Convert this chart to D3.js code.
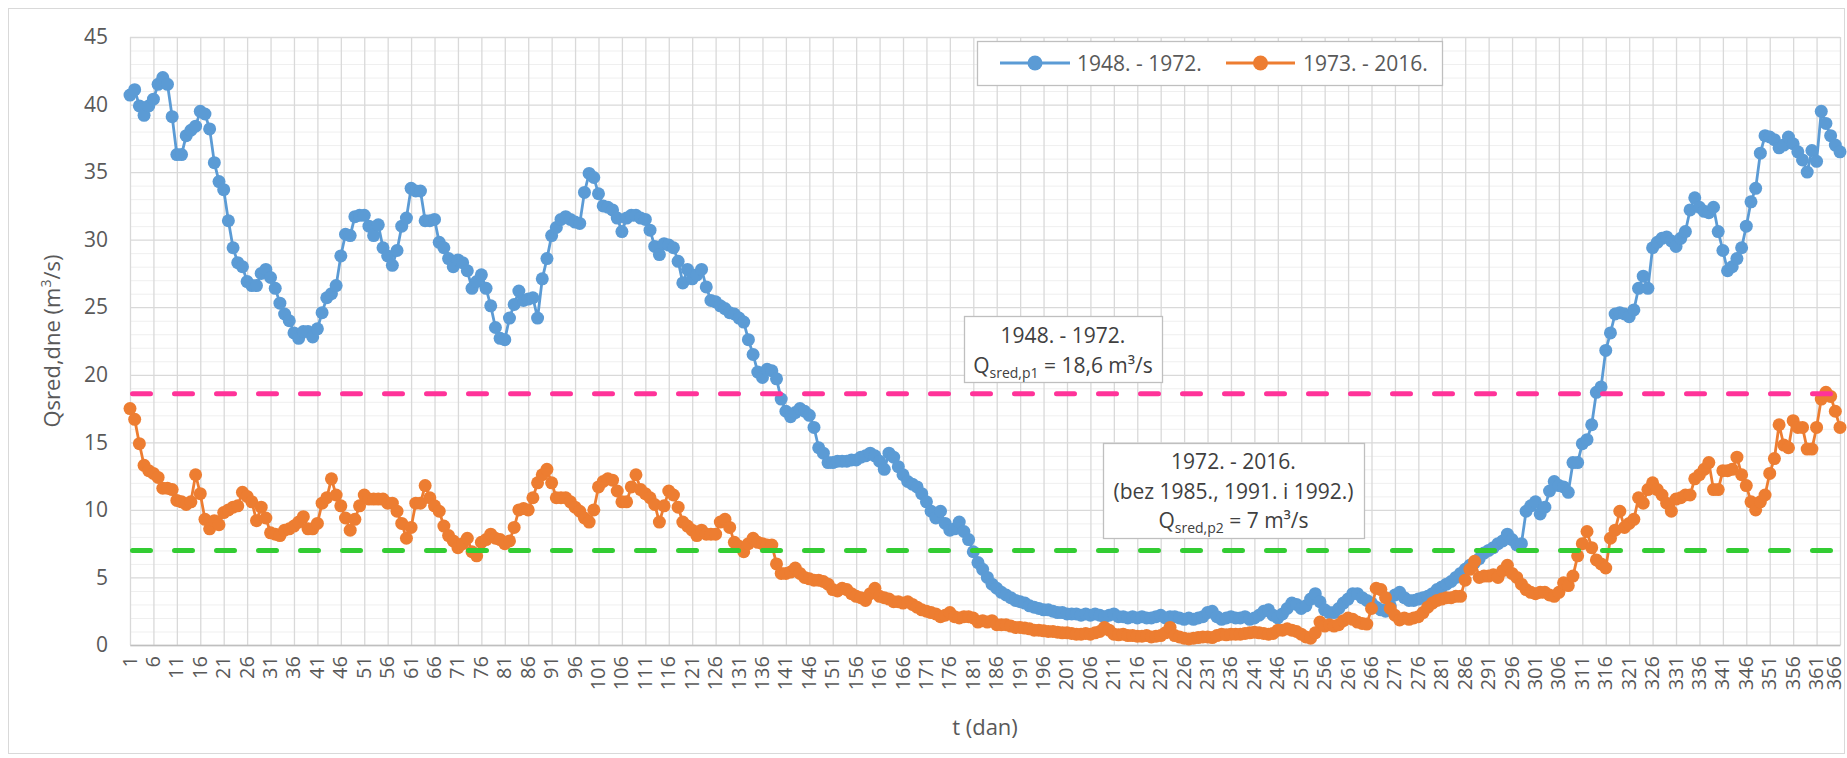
<!DOCTYPE html>
<html>
<head>
<meta charset="utf-8">
<script src="https://cdn.jsdelivr.net/npm/d3@7"></script>
<style>
  body { margin: 0; background: #fff; }
  svg { display: block; }
  text { font-family: "Open Sans", sans-serif; fill: #595959; }
</style>
</head>
<body>
<svg id="chart" width="1847" height="758"></svg>
<script>
// Mean daily discharge per day of year, two periods
const seriesNames = ["1948. - 1972.", "1973. - 2016."];

const q1948 = [
  40.7, 41.1, 39.9, 39.2, 39.9, 40.4, 41.5, 42.0, 41.5, 39.1,
  36.3, 36.3, 37.7, 38.1, 38.4, 39.5, 39.3, 38.2, 35.7, 34.3,
  33.7, 31.4, 29.4, 28.3, 28.0, 26.9, 26.6, 26.6, 27.5, 27.8,
  27.2, 26.4, 25.3, 24.5, 24.0, 23.1, 22.7, 23.2, 23.2, 22.8,
  23.4, 24.6, 25.7, 26.0, 26.6, 28.8, 30.4, 30.3, 31.7, 31.8,
  31.8, 31.0, 30.3, 31.1, 29.4, 28.8, 28.1, 29.2, 31.0, 31.6,
  33.8, 33.6, 33.6, 31.4, 31.4, 31.5, 29.8, 29.4, 28.6, 28.0,
  28.5, 28.3, 27.7, 26.4, 26.9, 27.4, 26.4, 25.1, 23.5, 22.7,
  22.6, 24.2, 25.2, 26.2, 25.5, 25.6, 25.7, 24.2, 27.1, 28.6,
  30.3, 30.9, 31.5, 31.7, 31.5, 31.3, 31.2, 33.5, 34.9, 34.6,
  33.4, 32.5, 32.4, 32.2, 31.6, 30.6, 31.6, 31.8, 31.8, 31.6,
  31.5, 30.7, 29.5, 28.9, 29.7, 29.6, 29.4, 28.4, 26.8, 27.8,
  27.1, 27.4, 27.8, 26.5, 25.5, 25.4, 25.1, 24.9, 24.6, 24.5,
  24.2, 23.9, 22.6, 21.5, 20.2, 19.8, 20.4, 20.3, 19.7, 18.2,
  17.3, 16.9, 17.2, 17.5, 17.3, 17.0, 16.1, 14.6, 14.2, 13.5,
  13.5, 13.6, 13.6, 13.6, 13.7, 13.7, 13.9, 14.0, 14.2, 14.0,
  13.6, 13.0, 14.2, 13.9, 13.2, 12.6, 12.1, 11.9, 11.7, 11.2,
  10.6, 9.9, 9.4, 9.9, 9.0, 8.5, 8.6, 9.1, 8.4, 7.8,
  6.9, 6.1, 5.6, 5.0, 4.5, 4.2, 3.9, 3.7, 3.5, 3.3,
  3.2, 3.1, 2.9, 2.8, 2.7, 2.6, 2.6, 2.5, 2.4, 2.4,
  2.3, 2.3, 2.3, 2.2, 2.3, 2.2, 2.3, 2.2, 2.1, 2.2,
  2.3, 2.1, 2.1, 2.0, 2.1, 2.0, 2.1, 2.0, 2.0, 2.1,
  2.2, 2.0, 2.1, 2.1, 2.0, 1.9, 2.0, 1.9, 2.0, 2.1,
  2.4, 2.5, 2.1, 1.9, 2.0, 2.1, 2.0, 2.0, 2.1, 1.9,
  2.0, 2.2, 2.5, 2.6, 2.2, 2.0, 2.3, 2.7, 3.1, 3.0,
  2.7, 2.9, 3.4, 3.8, 3.2, 2.6, 2.4, 2.4, 2.7, 3.1,
  3.4, 3.8, 3.8, 3.5, 3.3, 3.1, 2.8, 2.6, 2.5, 2.9,
  3.7, 3.9, 3.5, 3.3, 3.3, 3.4, 3.5, 3.6, 3.8, 4.1,
  4.3, 4.5, 4.7, 5.0, 5.3, 5.6, 5.9, 6.1, 6.4, 6.8,
  7.0, 7.2, 7.5, 7.7, 8.2, 7.8, 7.4, 7.5, 9.9, 10.3,
  10.6, 9.7, 10.2, 11.4, 12.1, 11.8, 11.7, 11.3, 13.5, 13.5,
  14.9, 15.2, 16.3, 18.7, 19.1, 21.8, 23.1, 24.5, 24.6, 24.5,
  24.3, 24.8, 26.4, 27.3, 26.4, 29.4, 29.8, 30.1, 30.2, 29.9,
  29.5, 30.1, 30.6, 32.2, 33.1, 32.4, 32.1, 32.0, 32.4, 30.6,
  29.2, 27.7, 28.0, 28.6, 29.4, 31.0, 32.8, 33.8, 36.4, 37.7,
  37.6, 37.4, 36.8, 37.0, 37.6, 37.1, 36.5, 35.9, 35.0, 36.6,
  35.8, 39.5, 38.6, 37.7, 37.0, 36.5
];

const q1973 = [
  17.5, 16.7, 14.9, 13.3, 12.9, 12.7, 12.4, 11.6, 11.6, 11.5,
  10.7, 10.6, 10.4, 10.6, 12.6, 11.2, 9.3, 8.6, 9.2, 8.9,
  9.8, 10.0, 10.2, 10.3, 11.3, 11.0, 10.6, 9.2, 10.2, 9.4,
  8.3, 8.2, 8.1, 8.5, 8.6, 8.8, 9.1, 9.5, 8.6, 8.6,
  9.0, 10.5, 10.9, 12.3, 11.1, 10.3, 9.4, 8.5, 9.3, 10.3,
  11.1, 10.8, 10.8, 10.8, 10.8, 10.5, 10.5, 9.9, 9.0, 7.9,
  8.7, 10.5, 10.5, 11.8, 10.9, 10.3, 9.9, 8.8, 8.1, 7.7,
  7.2, 7.5, 7.9, 6.9, 6.6, 7.6, 7.8, 8.2, 7.9, 7.8,
  7.5, 7.7, 8.7, 10.0, 10.1, 10.0, 10.9, 12.0, 12.6, 13.0,
  12.0, 10.9, 10.9, 10.9, 10.6, 10.2, 9.9, 9.4, 9.1, 10.0,
  11.7, 12.1, 12.3, 12.2, 11.4, 10.6, 10.6, 11.7, 12.6, 11.5,
  11.2, 10.9, 10.4, 9.1, 10.3, 11.4, 11.1, 10.2, 9.1, 8.8,
  8.5, 8.1, 8.5, 8.2, 8.2, 8.2, 9.1, 9.3, 8.7, 7.6,
  7.3, 6.9, 7.5, 7.9, 7.6, 7.5, 7.4, 7.4, 6.0, 5.3,
  5.3, 5.4, 5.7, 5.3, 5.0, 4.9, 4.8, 4.8, 4.7, 4.5,
  4.1, 4.0, 4.2, 4.1, 3.8, 3.6, 3.5, 3.3, 3.8, 4.2,
  3.6, 3.5, 3.4, 3.2, 3.2, 3.1, 3.2, 3.0, 2.8, 2.6,
  2.5, 2.4, 2.3, 2.1, 2.2, 2.4, 2.1, 2.0, 2.1, 2.1,
  2.0, 1.7, 1.8, 1.7, 1.8, 1.5, 1.5, 1.5, 1.4, 1.3,
  1.3, 1.25, 1.2, 1.1, 1.1, 1.05, 1.0, 1.0, 0.95, 0.9,
  0.9, 0.85, 0.8, 0.8, 0.85, 0.8, 0.9, 1.0, 1.3, 1.1,
  0.8, 0.75, 0.8, 0.7, 0.7, 0.65, 0.65, 0.7, 0.6, 0.65,
  0.7, 0.9, 1.3, 0.7, 0.6, 0.5, 0.45, 0.5, 0.55, 0.6,
  0.6, 0.55, 0.7, 0.8, 0.75, 0.8, 0.8, 0.8, 0.85, 0.9,
  0.95, 0.9, 0.85, 0.8, 0.85, 1.1, 1.1, 1.2, 1.1, 1.0,
  0.8, 0.6, 0.5, 0.9, 1.7, 1.4, 1.5, 1.4, 1.5, 1.8,
  2.0, 1.9, 1.7, 1.6, 1.55, 2.7, 4.2, 4.1, 3.5, 2.7,
  2.2, 1.85, 2.0, 1.9, 2.0, 2.1, 2.4, 2.8, 3.1, 3.3,
  3.4, 3.5, 3.5, 3.6, 3.6, 4.8, 5.6, 6.2, 5.0, 5.1,
  5.1, 5.2, 5.0, 5.5, 5.9, 5.3, 5.0, 4.5, 4.1, 3.9,
  3.8, 3.9, 3.9, 3.7, 3.6, 3.9, 4.6, 4.4, 5.1, 6.6,
  7.5, 8.4, 7.2, 6.3, 6.0, 5.7, 7.9, 8.5, 9.9, 8.7,
  9.0, 9.3, 10.9, 10.5, 11.5, 12.0, 11.5, 11.1, 10.5, 9.9,
  10.8, 10.9, 11.1, 11.1, 12.3, 12.6, 13.0, 13.5, 11.5, 11.5,
  12.9, 12.9, 13.0, 13.9, 12.6, 11.8, 10.6, 10.0, 10.6, 11.1,
  12.7, 13.8, 16.3, 14.8, 14.6, 16.6, 16.1, 16.1, 14.5, 14.5,
  16.1, 18.2, 18.7, 18.4, 17.3, 16.1
];

// Period means (horizontal reference lines)
const meanValues = [18.6, 7];
const meanColors = ["#ff3399", "#33cc33"];

const days = d3.range(1, q1948.length + 1);
const dayTicks = days.filter(d => d % 5 === 1);
const yTicks = [0, 5, 10, 15, 20, 25, 30, 35, 40, 45];
const yMinorTicks = d3.range(0, 46, 1);

const colors = ["#5b9bd5", "#ed7d31"];

(function draw() {
  const svg = d3.select("#chart");
  const W = 1847, H = 758;
  const plotL = 130, plotR = 1840, plotT = 37, plotB = 645;

  // outer chart frame
  svg.append("rect")
    .attr("x", 8.5).attr("y", 8.5)
    .attr("width", W - 11).attr("height", H - 13)
    .attr("fill", "#fff").attr("stroke", "#d9d9d9").attr("stroke-width", 1);

  const x = d3.scaleLinear().domain([1, 366]).range([plotL, plotR]);
  const y = d3.scaleLinear().domain([0, 45]).range([plotB, plotT]);

  // minor horizontal grid
  svg.append("g")
    .attr("transform", `translate(${plotL},0)`)
    .call(d3.axisLeft(y).tickValues(yMinorTicks.filter(v => v % 5 !== 0)).tickSize(-(plotR - plotL)).tickFormat(""))
    .call(g => g.select(".domain").remove())
    .call(g => g.selectAll("line").attr("stroke", "#efefef").attr("stroke-width", 1));

  // major horizontal grid
  svg.append("g")
    .attr("transform", `translate(${plotL},0)`)
    .call(d3.axisLeft(y).tickValues(yTicks).tickSize(-(plotR - plotL)).tickFormat(""))
    .call(g => g.select(".domain").remove())
    .call(g => g.selectAll("line").attr("stroke", "#d9d9d9").attr("stroke-width", 1.3));

  // vertical grid every 5 days
  svg.append("g")
    .attr("transform", `translate(0,${plotB})`)
    .call(d3.axisBottom(x).tickValues(dayTicks).tickSize(-(plotB - plotT)).tickFormat(""))
    .call(g => g.select(".domain").remove())
    .call(g => g.selectAll("line").attr("stroke", "#d9d9d9").attr("stroke-width", 1.3));

  // y axis labels
  svg.append("g")
    .attr("transform", `translate(${plotL},0)`)
    .call(d3.axisLeft(y).tickValues(yTicks).tickSize(0).tickPadding(22))
    .call(g => g.select(".domain").remove())
    .call(g => g.selectAll("text").style("font-size", "21px").attr("fill", "#595959")
      .style("font-family", "'Open Sans', sans-serif"));

  // x axis with rotated day labels (the last one nudged inward to stay inside the frame)
  const lastDay = dayTicks[dayTicks.length - 1];
  svg.append("g")
    .attr("transform", `translate(0,${plotB})`)
    .call(d3.axisBottom(x).tickValues(dayTicks).tickSize(0))
    .call(g => g.select(".domain").attr("stroke", "#bfbfbf").attr("stroke-width", 1.5))
    .call(g => g.selectAll("text")
      .style("font-size", "20px").attr("fill", "#595959")
      .style("font-family", "'Open Sans', sans-serif")
      .attr("transform", "rotate(-90)")
      .attr("text-anchor", "end")
      .attr("x", -11)
      .attr("y", d => d === lastDay ? -6 : 0)
      .attr("dy", "0.3em"));

  // axis titles
  const yTitle = svg.append("text")
    .attr("transform", `translate(60,${(plotT + plotB) / 2}) rotate(-90)`)
    .attr("text-anchor", "middle")
    .style("font-size", "22px");
  yTitle.append("tspan").text("Qsred,dne (m");
  yTitle.append("tspan").text("3").style("font-size", "14px").attr("dy", -9);
  yTitle.append("tspan").text("/s)").attr("dy", 9);

  svg.append("text")
    .attr("x", (plotL + plotR) / 2).attr("y", 735)
    .attr("text-anchor", "middle")
    .style("font-size", "22px")
    .text("t (dan)");

  // data series
  const line = d3.line().x((d, i) => x(days[i])).y(d => y(d));
  [q1948, q1973].forEach((vals, k) => {
    const g = svg.append("g");
    g.append("path").datum(vals)
      .attr("fill", "none").attr("stroke", colors[k]).attr("stroke-width", 2.8)
      .attr("stroke-linejoin", "round")
      .attr("d", line);
    g.selectAll("circle").data(vals).join("circle")
      .attr("cx", (d, i) => x(days[i])).attr("cy", d => y(d))
      .attr("r", 6.5).attr("fill", colors[k]);
  });

  // period mean lines
  meanValues.forEach((v, k) => {
    svg.append("line")
      .attr("x1", plotL + 2.5).attr("x2", plotR)
      .attr("y1", y(v)).attr("y2", y(v))
      .attr("stroke", meanColors[k]).attr("stroke-width", 5)
      .attr("stroke-linecap", "round")
      .attr("stroke-dasharray", "18 24");
  });

  // legend
  const lg = svg.append("g");
  lg.append("rect").attr("x", 977.5).attr("y", 41.5).attr("width", 465).attr("height", 44)
    .attr("fill", "#fff").attr("stroke", "#bfbfbf").attr("stroke-width", 1.3);
  const legendItems = [
    { x0: 1000, x1: 1070, tx: 1077 },
    { x0: 1226, x1: 1295, tx: 1303 }
  ];
  legendItems.forEach((it, k) => {
    lg.append("line").attr("x1", it.x0).attr("x2", it.x1).attr("y1", 63).attr("y2", 63)
      .attr("stroke", colors[k]).attr("stroke-width", 2.8);
    lg.append("circle").attr("cx", (it.x0 + it.x1) / 2).attr("cy", 63).attr("r", 7.5).attr("fill", colors[k]);
    lg.append("text").attr("x", it.tx).attr("y", 63).attr("dy", "0.36em")
      .style("font-size", "21px").text(seriesNames[k]);
  });

  // annotation boxes for the period means
  function noteBox(x0, y0, w, h, lines) {
    const g = svg.append("g");
    g.append("rect").attr("x", x0 + 0.5).attr("y", y0 + 0.5).attr("width", w).attr("height", h)
      .attr("fill", "#fff").attr("stroke", "#bfbfbf").attr("stroke-width", 1.3);
    lines.forEach(l => {
      const t = g.append("text").attr("x", x0 + w / 2).attr("y", l.y)
        .attr("text-anchor", "middle").style("font-size", "21px").style("fill", "#404040");
      if (l.sub) {
        t.append("tspan").text("Q");
        t.append("tspan").text(l.sub).style("font-size", "14px").attr("dy", 5);
        t.append("tspan").text(l.rest).attr("dy", -5);
      } else {
        t.text(l.text);
      }
    });
  }
  noteBox(964, 316, 198, 66, [
    { y: 343, text: "1948. - 1972." },
    { y: 373, sub: "sred,p1", rest: " = 18,6 m³/s" }
  ]);
  noteBox(1103, 443, 261, 95, [
    { y: 469, text: "1972. - 2016." },
    { y: 499, text: "(bez 1985., 1991. i 1992.)" },
    { y: 528, sub: "sred,p2", rest: " = 7 m³/s" }
  ]);
})();
</script>
</body>
</html>
